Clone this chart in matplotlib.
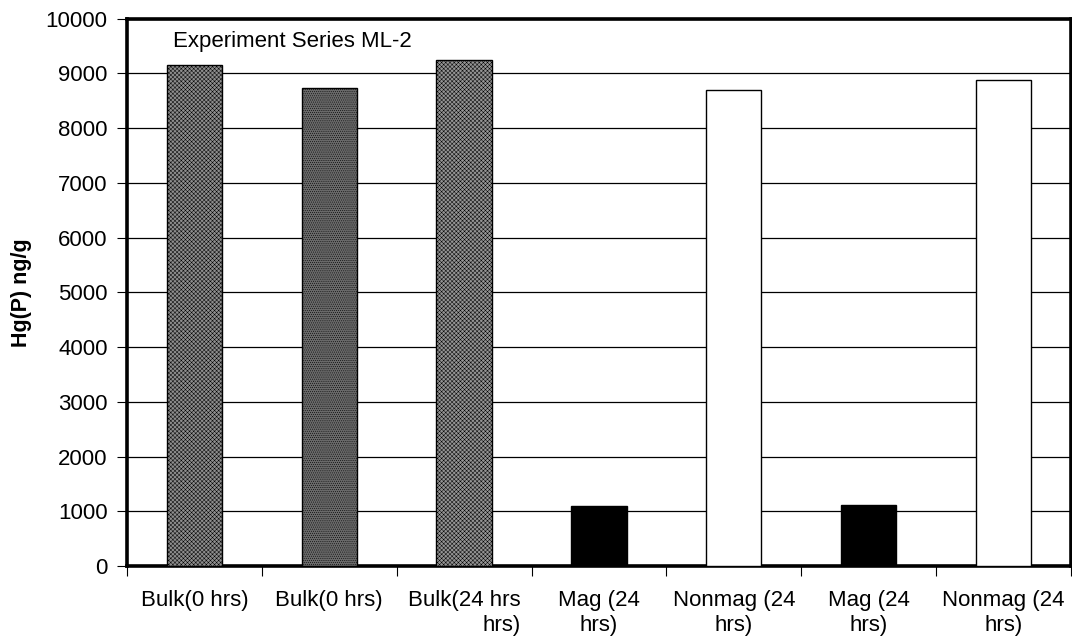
import matplotlib.pyplot as plt
import numpy as np

plt.rcParams['font.family'] = ['Liberation Sans', 'DejaVu Sans']
plt.rcParams['hatch.linewidth'] = 0.35

# Data
labels = ["Bulk(0 hrs)", "Bulk(0 hrs)", "Bulk(24 hrs\nhrs)", "Mag (24\nhrs)",
          "Nonmag (24\nhrs)", "Mag (24\nhrs)", "Nonmag (24\nhrs)"]
values = [9150, 8730, 9250, 1100, 8700, 1110, 8880]
colors = ["#8e8e8e", "#6a6a6a", "#949494", "black", "white", "black", "white"]
hatches = ["xxxxxxxx", "........", "xxxxxxxx", None, None, None, None]

fig = plt.figure(figsize=(10.72, 6.42), dpi=100)
ax = fig.add_axes([0.1185, 0.118, 0.8805, 0.853])

x = np.arange(len(values))
for i in range(len(values)):
    ax.bar(x[i], values[i], width=0.41, color=colors[i], edgecolor="black",
           linewidth=1, hatch=hatches[i], zorder=3)

ax.set_xlim(-0.5, len(values) - 0.5)
ax.set_ylim(0, 10000)
ax.set_yticks(np.arange(0, 10001, 1000))
ax.yaxis.grid(True, color="black", linewidth=0.9, zorder=0)
ax.set_axisbelow(True)

ax.set_xticks(np.arange(-0.5, len(values), 1))
ax.set_xticklabels([])
ax.set_xticks(x, minor=True)
ax.set_xticklabels(labels, minor=True, fontsize=16, linespacing=1.25)
ax.tick_params(axis="x", which="minor", length=0, pad=17)
ax.tick_params(axis="x", which="major", length=7, width=0.8, direction="out")
ax.tick_params(axis="y", length=7, width=0.8, labelsize=16, pad=7)
for lbl in ax.get_xticklabels(minor=True):
    if lbl.get_text().startswith("Bulk(24"):
        lbl.set_multialignment("right")

for s in ax.spines.values():
    s.set_linewidth(2.6)
    s.set_color("black")

ax.set_ylabel("Hg(P) ng/g", fontsize=15.5, fontweight="bold", labelpad=10)
ax.text(0.049, 0.958, "Experiment Series ML-2", transform=ax.transAxes,
        fontsize=16, va="center", ha="left")

fig.savefig("out.png", dpi=100)
